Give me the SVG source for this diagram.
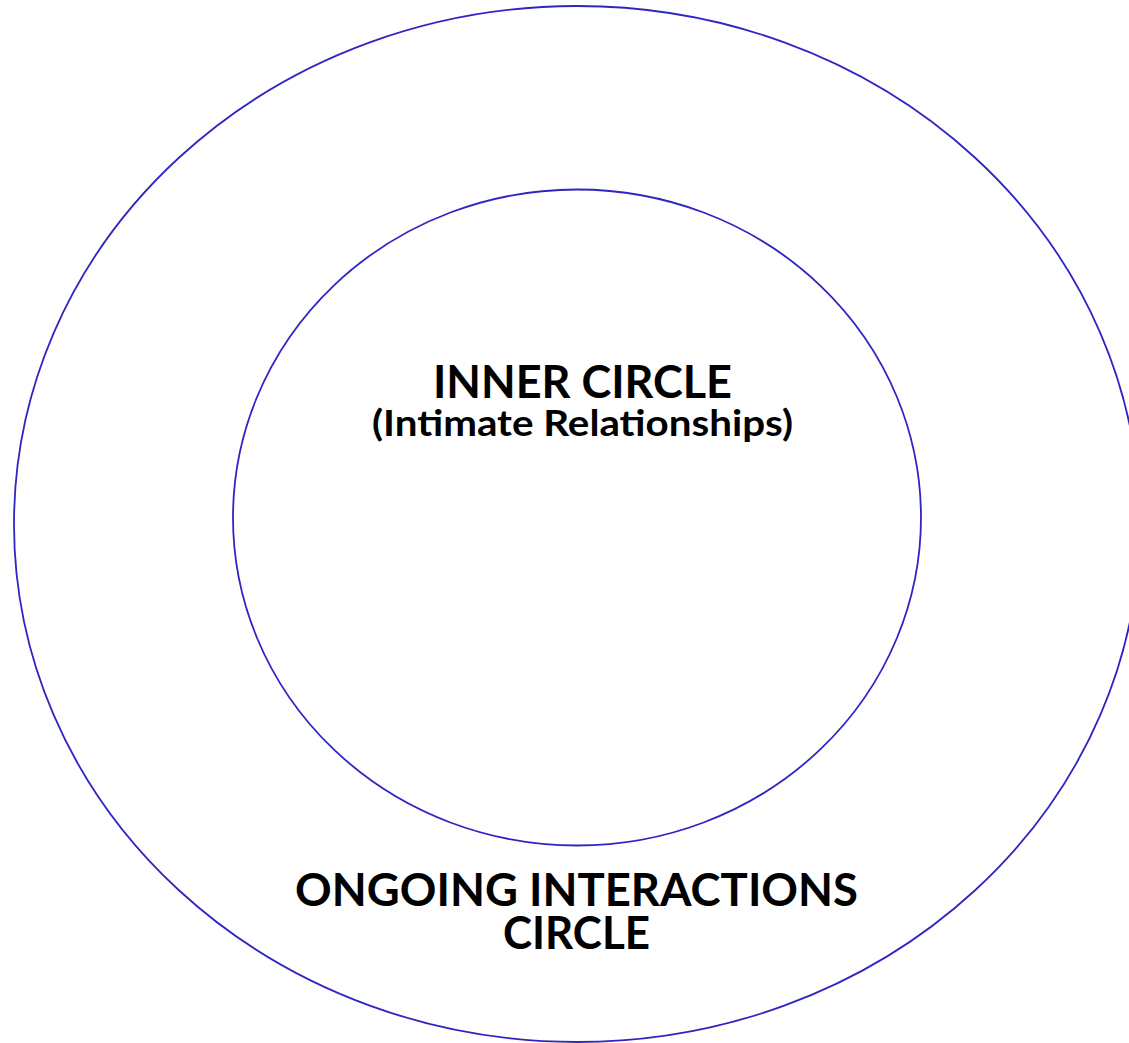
<svg xmlns="http://www.w3.org/2000/svg" width="1129" height="1043" viewBox="0 0 1129 1043">
<style>
.ring{fill:none;stroke:#2f25c2;stroke-width:1.8}
.t{font-family:Lato,"Open Sans","Liberation Sans",sans-serif;font-weight:bold;fill:#000;text-anchor:middle}
</style>
<rect width="1129" height="1043" fill="#fff"/>
<g id="outer-circle">
<ellipse class="ring" cx="577" cy="524" rx="563" ry="518"/>
<text class="t" x="576.5" y="906" font-size="46" textLength="563" lengthAdjust="spacingAndGlyphs">ONGOING INTERACTIONS</text>
<text class="t" x="576.5" y="949" font-size="46" textLength="147" lengthAdjust="spacingAndGlyphs">CIRCLE</text>
</g>
<g id="inner-circle">
<ellipse class="ring" cx="577" cy="517.5" rx="344" ry="328"/>
<text class="t" x="582.5" y="398" font-size="46" textLength="299" lengthAdjust="spacingAndGlyphs">INNER CIRCLE</text>
<text class="t" x="582.5" y="436" font-size="37" textLength="421" lengthAdjust="spacingAndGlyphs">(Intimate Relationships)</text>
</g>
<g id="connectors"/>
</svg>
